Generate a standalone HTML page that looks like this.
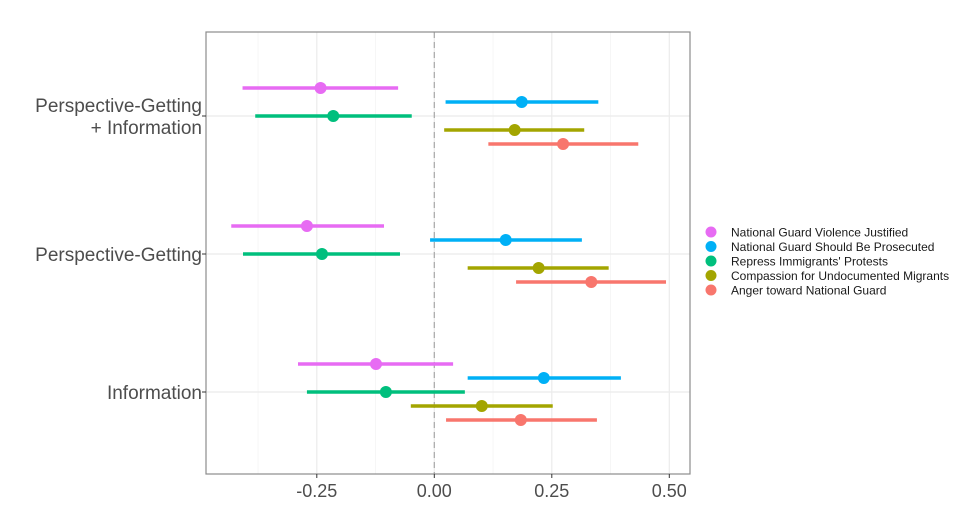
<!DOCTYPE html>
<html><head><meta charset="utf-8"><style>
body{margin:0;background:#fff;font-family:"Liberation Sans",sans-serif}
svg text{font-family:"Liberation Sans",sans-serif}
</style></head><body>
<svg id="chart" width="977" height="504" xmlns="http://www.w3.org/2000/svg"></svg>
<script>
const groups=["Perspective-Getting\n+ Information","Perspective-Getting","Information"];
const seriesNames=["National Guard Violence Justified","National Guard Should Be Prosecuted","Repress Immigrants' Protests","Compassion for Undocumented Migrants","Anger toward National Guard"];
const seriesColors=["#E76BF3","#00B0F6","#00BF7D","#A3A500","#F8766D"];
const estimates=[[-0.242,-0.271,-0.124],[0.186,0.152,0.233],[-0.215,-0.239,-0.103],[0.171,0.222,0.101],[0.274,0.334,0.184]];
const lowers=[[-0.408,-0.432,-0.290],[0.024,-0.009,0.071],[-0.381,-0.407,-0.271],[0.021,0.071,-0.050],[0.115,0.174,0.025]];
const uppers=[[-0.077,-0.107,0.040],[0.349,0.314,0.397],[-0.048,-0.073,0.065],[0.319,0.371,0.252],[0.434,0.493,0.346]];
const xTicks=[-0.25,0,0.25,0.5];
const xTickLabels=["-0.25","0.00","0.25","0.50"];
const xMinorTicks=[-0.375,-0.125,0.125,0.375];

const NS="http://www.w3.org/2000/svg";
const svg=document.getElementById('chart');
const L=206,R=690,T=32,B=474;
const x=v=>434.3+v*470;
const y=(g,s)=>116+g*138+(s-2)*14;
function mk(t,a){const e=document.createElementNS(NS,t);for(const k in a)e.setAttribute(k,a[k]);svg.appendChild(e);return e;}
let e;
e=mk('rect',{x:L,y:T,width:R-L,height:B-T,fill:'#fff'});


xMinorTicks.forEach(v=>{e=mk('line',{x1:x(v),x2:x(v),y1:T,y2:B,stroke:'#f2f2f2','stroke-width':0.7});

});
xTicks.forEach(v=>{e=mk('line',{x1:x(v),x2:x(v),y1:T,y2:B,stroke:'#ebebeb','stroke-width':1.2});

});
groups.forEach((g,i)=>{e=mk('line',{x1:L,x2:R,y1:y(i,2),y2:y(i,2),stroke:'#ebebeb','stroke-width':1.2});

});
e=mk('line',{x1:x(0),x2:x(0),y1:T,y2:B,stroke:'#a8a8a8','stroke-width':1.2,'stroke-dasharray':'6,4'});


e=mk('rect',{x:L,y:T,width:R-L,height:B-T,fill:'none',stroke:'#8c8c8c','stroke-width':1.2});


seriesNames.forEach((n,s)=>{groups.forEach((g,i)=>{
 const yy=y(i,s);
 e=mk('line',{x1:x(lowers[s][i]),x2:x(uppers[s][i]),y1:yy,y2:yy,stroke:seriesColors[s],'stroke-width':3.5});
 
 
 e=mk('circle',{cx:x(estimates[s][i]),cy:yy,r:6,fill:seriesColors[s]});
 
 
});});
xTicks.forEach((v,i)=>{
 e=mk('line',{x1:x(v),x2:x(v),y1:B,y2:B+4,stroke:'#333','stroke-width':1});
 
 
 e=mk('text',{x:x(v),y:497,'text-anchor':'middle','font-size':18,fill:'#4d4d4d'});e.textContent=xTickLabels[i];
 
 
});
groups.forEach((g,i)=>{
 const lines=g.split('\n');const cy=y(i,2);
 e=mk('line',{x1:L-4,x2:L,y1:cy,y2:cy,stroke:'#333','stroke-width':1});
 
 
 lines.forEach((ln,j)=>{
  const off=(j-(lines.length-1)/2)*22;
  e=mk('text',{x:202,y:cy+off+7,'text-anchor':'end','font-size':19,fill:'#4d4d4d'});e.textContent=ln;
  
  
 });
});
seriesNames.forEach((n,s)=>{
 const ly=232+s*14.5;
 e=mk('circle',{cx:711,cy:ly,r:5.5,fill:seriesColors[s]});
 
 
 e=mk('text',{x:731,y:ly+4.5,'font-size':12,fill:'#1a1a1a'});e.textContent=n;
 
 
});
</script>
</body></html>
